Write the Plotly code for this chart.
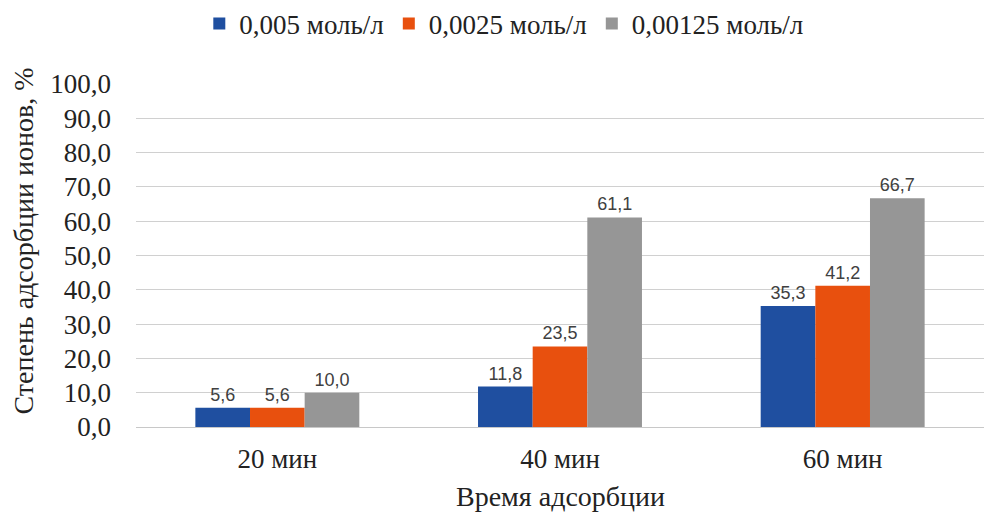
import plotly.graph_objects as go

categories = ["20 мин", "40 мин", "60 мин"]
series_names = ["0,005 моль/л", "0,0025 моль/л", "0,00125 моль/л"]
s1 = [5.6, 11.8, 35.3]
s2 = [5.6, 23.5, 41.2]
s3 = [10.0, 61.1, 66.7]
colors = ["#1F4FA0", "#E8500E", "#969696"]
y_ticks = [0, 10, 20, 30, 40, 50, 60, 70, 80, 90, 100]
y_tick_labels = [f"{v:.1f}".replace(".", ",") for v in y_ticks]
x_title = "Время адсорбции"
y_title = "Степень адсорбции ионов, %"

SERIF = "Times New Roman, Liberation Serif, DejaVu Serif, serif"
FS = 27

fig = go.Figure()
for name, vals, c in zip(series_names, [s1, s2, s3], colors):
    fig.add_trace(go.Bar(
        x=categories, y=vals, name=name, marker_color=c, marker_line_width=0,
        text=[f"{v:.1f}".replace(".", ",") for v in vals],
        textposition="outside", cliponaxis=False,
        textfont=dict(family="Liberation Sans, Arial, sans-serif", size=18, color="#404040"),
    ))

fig.update_layout(
    width=984, height=512,
    margin=dict(l=136, r=0, t=84, b=85),
    paper_bgcolor="white", plot_bgcolor="white",
    barmode="group", bargap=0.42, bargroupgap=0,
    font=dict(family=SERIF, size=FS, color="#222222"),
    legend=dict(orientation="h", x=0.512, xref="container", xanchor="center",
                y=0.953, yref="container", yanchor="middle",
                font=dict(family=SERIF, size=FS), traceorder="normal",
                itemwidth=30),
    showlegend=True,
    annotations=[
        dict(text=x_title, xref="paper", yref="paper", x=0.5, y=0, yshift=-69,
             xanchor="center", yanchor="middle", showarrow=False,
             font=dict(family=SERIF, size=28, color="#222222")),
        dict(text=y_title, xref="paper", yref="paper", x=0, y=0.5, xshift=-113, yshift=14,
             xanchor="center", yanchor="middle", textangle=-90, showarrow=False,
             font=dict(family=SERIF, size=28, color="#222222")),
    ],
)
fig.update_xaxes(
    tickfont=dict(family=SERIF, size=FS), showline=False, ticks="", automargin=False,
    ticklabelstandoff=13,
)
fig.update_yaxes(
    range=[0, 100], tickvals=y_ticks, ticktext=y_tick_labels,
    tickfont=dict(family=SERIF, size=FS), gridcolor="#D0D0D0", gridwidth=1,
    zeroline=True, zerolinecolor="#C8C8C8", zerolinewidth=1,
    ticks="", ticklen=0, ticklabelstandoff=24, automargin=False,
)
fig.write_html("out.html", config={"displayModeBar": False},
               post_script="document.body.style.margin='0';")
